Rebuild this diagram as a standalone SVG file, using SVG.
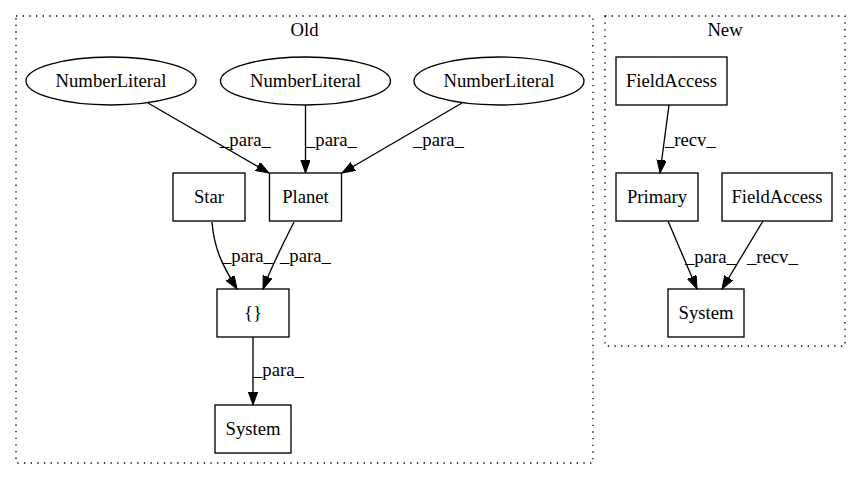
<svg xmlns="http://www.w3.org/2000/svg" width="860" height="480" viewBox="0 0 860 480">
<style>
  text { font-family: "Liberation Serif", "Times New Roman", serif; font-size: 18.67px; fill: #000; }
  .mid { text-anchor: middle; }
  .node rect, .node ellipse { fill: none; stroke: #000; stroke-width: 1.33; }
  .cluster { fill: none; stroke: #000; stroke-width: 1.33; stroke-dasharray: 1.33 5.33; }
  .edge { fill: none; stroke: #000; stroke-width: 1.33; marker-end: url(#arrow); }
</style>
<defs>
  <marker id="arrow" markerUnits="userSpaceOnUse" markerWidth="14" markerHeight="10" refX="13" refY="4.67" orient="auto">
    <path d="M0,0 L13,4.67 L0,9.33 Z" fill="#000" stroke="#000" stroke-width="1"/>
  </marker>
</defs>
<rect width="860" height="480" fill="#fff"/>

<g id="cluster_old">
  <rect class="cluster" x="16" y="16" width="577" height="447"/>
  <text class="mid" x="304.5" y="36">Old</text>
</g>
<g id="cluster_new">
  <rect class="cluster" x="605" y="16" width="240" height="330"/>
  <text class="mid" x="725" y="36">New</text>
</g>

<g id="connectors">
  <path class="edge" d="M148,103 L269,173"/>
  <text x="220" y="146">_para_</text>
  <path class="edge" d="M305.5,105 L305.5,173"/>
  <text x="306" y="146">_para_</text>
  <path class="edge" d="M462,103 L342,173"/>
  <text x="413" y="146">_para_</text>
  <path class="edge" d="M212,222 C214,250 224,268 237,289"/>
  <text x="222" y="262">_para_</text>
  <path class="edge" d="M294,222 C285,240 272,265 263,289"/>
  <text x="280" y="262">_para_</text>
  <path class="edge" d="M253,337 L253,405"/>
  <text x="253" y="376">_para_</text>
  <path class="edge" d="M669,105 L660,173"/>
  <text x="665" y="146">_recv_</text>
  <path class="edge" d="M668,221 L697,289"/>
  <text x="685" y="263">_para_</text>
  <path class="edge" d="M763,221 L722,289"/>
  <text x="747" y="263">_recv_</text>
</g>

<g id="nl1" class="node">
  <ellipse cx="111" cy="81" rx="85" ry="24"/>
  <text class="mid" x="111" y="87">NumberLiteral</text>
</g>
<g id="nl2" class="node">
  <ellipse cx="305.5" cy="81" rx="85" ry="24"/>
  <text class="mid" x="305.5" y="87">NumberLiteral</text>
</g>
<g id="nl3" class="node">
  <ellipse cx="499" cy="81" rx="85" ry="24"/>
  <text class="mid" x="499" y="87">NumberLiteral</text>
</g>
<g id="star" class="node">
  <rect x="173" y="173" width="72" height="48"/>
  <text class="mid" x="209" y="203">Star</text>
</g>
<g id="planet" class="node">
  <rect x="269.5" y="173" width="72" height="48"/>
  <text class="mid" x="305.5" y="203">Planet</text>
</g>
<g id="braces" class="node">
  <rect x="217" y="289" width="72" height="48"/>
  <text class="mid" x="253" y="319">{}</text>
</g>
<g id="system_old" class="node">
  <rect x="215" y="405" width="76" height="48"/>
  <text class="mid" x="253" y="435">System</text>
</g>
<g id="fieldaccess1" class="node">
  <rect x="616" y="57" width="111" height="48"/>
  <text class="mid" x="671.5" y="87">FieldAccess</text>
</g>
<g id="primary" class="node">
  <rect x="616" y="173" width="82" height="48"/>
  <text class="mid" x="657" y="203">Primary</text>
</g>
<g id="fieldaccess2" class="node">
  <rect x="722" y="173" width="110" height="48"/>
  <text class="mid" x="777" y="203">FieldAccess</text>
</g>
<g id="system_new" class="node">
  <rect x="668" y="289" width="76" height="48"/>
  <text class="mid" x="706" y="319">System</text>
</g>
</svg>
